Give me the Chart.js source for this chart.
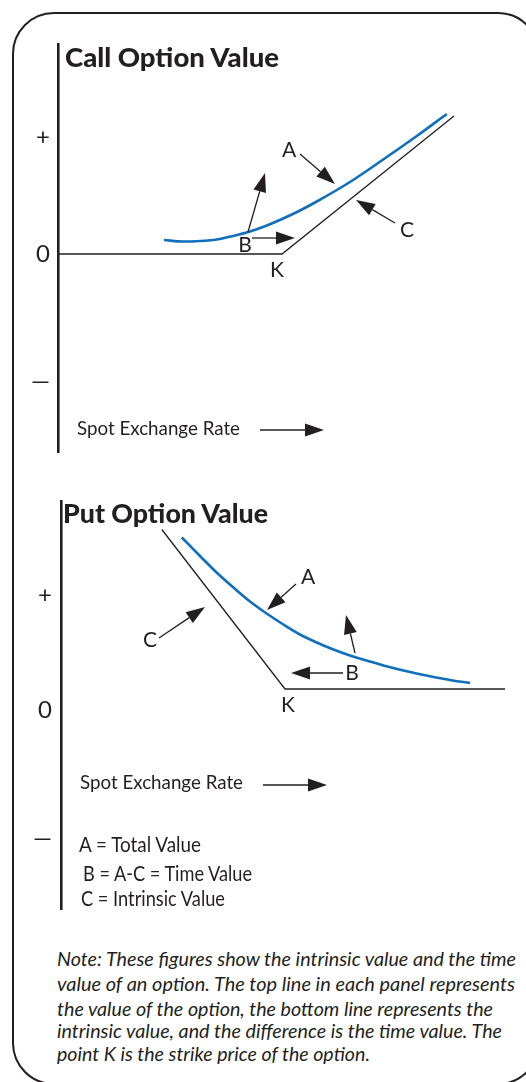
<!DOCTYPE html>
<html>
<head>
<meta charset="utf-8">
<script src="https://cdn.jsdelivr.net/npm/chart.js@4.4.1/dist/chart.umd.min.js"></script>
<style>
  html, body { margin: 0; padding: 0; background: #fff; }
  body { width: 526px; height: 1082px; position: relative; overflow: hidden; font-family: Lato, sans-serif; color: #231f20; }
  #frame { position: absolute; left: 12px; top: 12px; width: 528px; height: 1073px; border: 2.5px solid #231f20; border-radius: 42px; box-sizing: border-box; }
  canvas { position: absolute; left: 0; }
  .t { position: absolute; white-space: nowrap; transform-origin: 0 50%; }
</style>
</head>
<body>
<div id="frame"></div>
<canvas id="call" width="526" height="410" style="top:43px"></canvas>
<canvas id="put" width="526" height="410" style="top:500px"></canvas>
<script>
// call panel: value against spot rate
let callTicks = [2.34, 0, -2.54];
let callTickLabels = ['+', '0', '\u2014'];
let callIntrinsicX = [0, 5.6, 9.9];
let callIntrinsicY = [0, 0, 2.76];
let callTotalX = [2.65, 3.13, 3.55, 3.97, 4.38, 4.8, 5.22, 5.63, 6.05, 6.47, 7.3, 8.13, 8.97, 9.72];
let callTotalY = [0.28, 0.25, 0.26, 0.29, 0.36, 0.45, 0.57, 0.71, 0.87, 1.05, 1.44, 1.89, 2.36, 2.8];
let callLetters = [['A', 5.775, 2.08], ['B', 4.675, 0.18], ['C', 8.725, 0.48], ['K', 5.475, -0.32]];
let callArrows = [[6.05, 2.0, 6.925, 1.4], [8.425, 0.62, 7.45, 1.08], [4.85, 0.32, 5.925, 0.32], [4.75, 0.44, 5.175, 1.62]];
let callSpot = [0.475, -3.5, 5.05, 6.65, -3.52];

// put panel
let putTicks = [1.88, -0.42, -2.98];
let putTickLabels = ['+', '0', '\u2014'];
let putIntrinsicX = [2.52, 5.6, 11.1];
let putIntrinsicY = [3.19, 0, 0];
let putTotalX = [3.02, 3.475, 3.89, 4.31, 4.725, 5.14, 5.56, 5.975, 6.39, 6.81, 7.225, 7.64, 8.06, 8.89, 9.725, 10.225];
let putTotalY = [3.03, 2.66, 2.33, 2.03, 1.75, 1.51, 1.29, 1.09, 0.93, 0.79, 0.67, 0.57, 0.47, 0.31, 0.18, 0.12];
let putLetters = [['A', 6.175, 2.24], ['B', 7.275, 0.32], ['C', 2.225, 0.98], ['K', 5.675, -0.32]];
let putArrows = [[5.875, 2.1, 5.15, 1.58], [2.45, 1.02, 3.6, 1.64], [7.05, 0.32, 5.75, 0.32], [7.35, 0.72, 7.125, 1.48]];
let putSpot = [0.475, -1.88, 5.05, 6.65, -1.92];

let legendLines = ['A = Total Value', 'B = A-C = Time Value', 'C = Intrinsic Value'];
let noteLines = [
    'Note: These figures show the intrinsic value and the time',
    'value of an option. The top line in each panel represents',
    'the value of the option, the bottom line represents the',
    'intrinsic value, and the difference is the time value. The',
    'point K is the strike price of the option.'
];

const ink = '#231f20';
const blue = '#0f6fba';

Chart.defaults.font.family = 'Lato';
Chart.defaults.font.size = 24;
Chart.defaults.color = ink;

function pts(xs, ys) {
    return xs.map((x, i) => ({x: x, y: ys[i]}));
}

function arrow(ctx, x0, y0, x1, y1) {
    const a = Math.atan2(y1 - y0, x1 - x0);
    const len = 19, half = 6.5;
    const bx = x1 - len * Math.cos(a), by = y1 - len * Math.sin(a);
    ctx.beginPath();
    ctx.moveTo(x0, y0);
    ctx.lineTo(bx, by);
    ctx.stroke();
    ctx.beginPath();
    ctx.moveTo(x1, y1);
    ctx.lineTo(bx + half * Math.sin(a), by - half * Math.cos(a));
    ctx.lineTo(bx - half * Math.sin(a), by + half * Math.cos(a));
    ctx.closePath();
    ctx.fill();
}

// letters, arrows and the spot rate label, placed through the scales
const markPlugin = {
    id: 'marks',
    afterDatasetsDraw(chart, args, opts) {
        const ctx = chart.ctx, xs = chart.scales.x, ys = chart.scales.y;
        const X = v => xs.getPixelForValue(v), Y = v => ys.getPixelForValue(v);
        ctx.save();
        ctx.fillStyle = ink;
        ctx.strokeStyle = ink;
        ctx.lineWidth = 1.3;
        opts.arrows.forEach(a => arrow(ctx, X(a[0]), Y(a[1]), X(a[2]), Y(a[3])));
        let s = opts.spot;
        arrow(ctx, X(s[2]), Y(s[4]), X(s[3]), Y(s[4]));
        ctx.font = '21px Lato';
        ctx.textAlign = 'center';
        ctx.textBaseline = 'middle';
        opts.letters.forEach(l => ctx.fillText(l[0], X(l[1]), Y(l[2])));
        ctx.font = '20px Lato';
        ctx.textAlign = 'left';
        const w = ctx.measureText('Spot Exchange Rate').width;
        ctx.translate(X(s[0]), Y(s[1]));
        ctx.scale(163 / w, 1);
        ctx.fillText('Spot Exchange Rate', 0, 0);
        ctx.restore();
    }
};

function makeChart(id, axisLeft, yMin, yMax, xMax, ticks, tickLabels, tickPad, intrinsic, total, marks) {
    return new Chart(document.getElementById(id), {
        type: 'line',
        data: {
            datasets: [
                {data: intrinsic, borderColor: ink, borderWidth: 1.3, pointRadius: 0, tension: 0},
                {data: total, borderColor: blue, borderWidth: 2.6, pointRadius: 0, cubicInterpolationMode: 'monotone'}
            ]
        },
        options: {
            responsive: false,
            animation: false,
            events: [],
            layout: {padding: 0},
            plugins: {legend: {display: false}, tooltip: {enabled: false}, marks: marks},
            scales: {
                x: {type: 'linear', display: false, min: 0, max: xMax},
                y: {
                    type: 'linear', min: yMin, max: yMax,
                    afterFit: s => { s.width = axisLeft; s.paddingTop = 0; s.paddingBottom = 0; },
                    afterBuildTicks: s => { s.ticks = ticks.map(v => ({value: v})); },
                    ticks: {
                        padding: tickPad, color: ink, autoSkip: false,
                        font: {family: 'Lato', size: 24, weight: 'normal'},
                        callback: (v, i) => tickLabels[i]
                    },
                    grid: {display: false, drawTicks: false},
                    border: {display: true, color: ink, width: 2.6}
                }
            }
        },
        plugins: [markPlugin]
    });
}

function place(text, x, cy, size, width, style) {
    const d = document.createElement('div');
    d.className = 't';
    d.textContent = text;
    d.style.left = x + 'px';
    d.style.top = (cy - size / 2) + 'px';
    d.style.fontSize = size + 'px';
    d.style.lineHeight = size + 'px';
    if (style) d.style.cssText += style;
    document.body.appendChild(d);
    d.style.transform = 'scaleX(' + (width / d.getBoundingClientRect().width) + ')';
}

function init() {
    makeChart('call', 58, -3.98, 4.22, 11.7, callTicks, callTickLabels, 8,
        pts(callIntrinsicX, callIntrinsicY), pts(callTotalX, callTotalY),
        {letters: callLetters, arrows: callArrows, spot: callSpot});
    makeChart('put', 61, -4.42, 3.78, 11.625, putTicks, putTickLabels, 9,
        pts(putIntrinsicX, putIntrinsicY), pts(putTotalX, putTotalY),
        {letters: putLetters, arrows: putArrows, spot: putSpot});

    place('Call Option Value', 65, 57, 26, 214, 'font-weight:900;');
    place('Put Option Value', 63, 513, 26, 205, 'font-weight:900;');

    let legendX = [79, 83, 81], legendY = [843, 872, 897], legendW = [122, 169, 144];
    legendLines.forEach((t, i) => place(t, legendX[i], legendY[i], 21, legendW[i]));

    let noteY = [958, 983, 1008, 1030, 1053], noteW = [459, 458, 436, 445, 313];
    noteLines.forEach((t, i) => place(t, 57, noteY[i], 20, noteW[i], 'font-style:italic;'));
}

Promise.all(['24px Lato', '21px Lato', 'bold 26px Lato', '900 26px Lato', 'italic 20px Lato'].map(f => document.fonts.load(f))).then(init, init);
</script>
</body>
</html>
